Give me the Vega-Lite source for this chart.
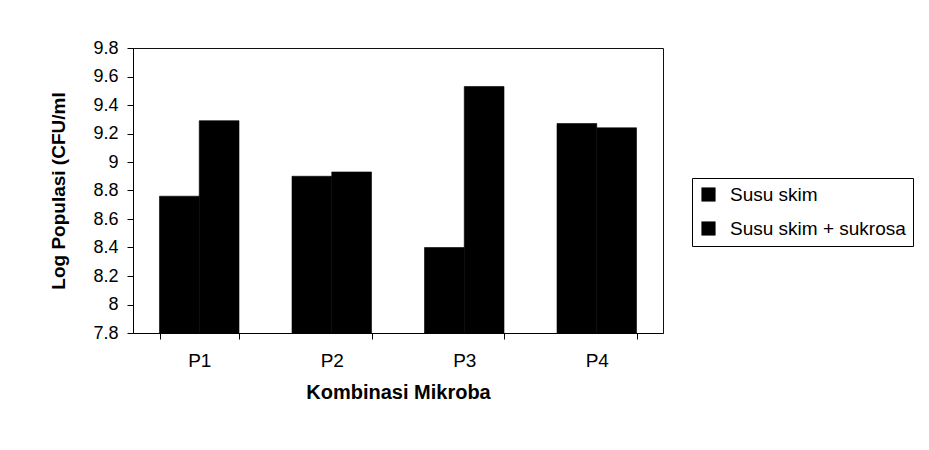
{
  "$schema": "https://vega.github.io/schema/vega-lite/v6.json",
  "width": 530,
  "height": 285,
  "autosize": {"type": "none"},
  "padding": {"left": 133, "top": 48, "right": 266, "bottom": 117},
  "background": "white",
  "config": {
    "font": "Liberation Sans",
    "view": {"stroke": "#111", "strokeWidth": 1}
  },
  "data": {
    "values": [
      {"kombinasi": "P1", "perlakuan": "Susu skim", "log": 8.76},
      {"kombinasi": "P1", "perlakuan": "Susu skim + sukrosa", "log": 9.29},
      {"kombinasi": "P2", "perlakuan": "Susu skim", "log": 8.90},
      {"kombinasi": "P2", "perlakuan": "Susu skim + sukrosa", "log": 8.93},
      {"kombinasi": "P3", "perlakuan": "Susu skim", "log": 8.40},
      {"kombinasi": "P3", "perlakuan": "Susu skim + sukrosa", "log": 9.53},
      {"kombinasi": "P4", "perlakuan": "Susu skim", "log": 9.27},
      {"kombinasi": "P4", "perlakuan": "Susu skim + sukrosa", "log": 9.24}
    ]
  },
  "mark": {"type": "bar", "stroke": "black", "strokeWidth": 0.6},
  "encoding": {
    "x": {
      "field": "kombinasi",
      "type": "nominal",
      "scale": {"paddingInner": 0.4, "paddingOuter": 0.2},
      "axis": {
        "title": "Kombinasi Mikroba",
        "labelAngle": 0,
        "tickBand": "extent",
        "tickSize": 6,
        "tickColor": "black",
        "domainColor": "black",
        "labelFontSize": 19,
        "labelColor": "black",
        "labelPadding": 12,
        "titleFontSize": 20,
        "titleFontWeight": "bold",
        "titleColor": "black",
        "titlePadding": 12
      }
    },
    "xOffset": {
      "field": "perlakuan",
      "type": "nominal",
      "scale": {"paddingInner": 0, "paddingOuter": 0}
    },
    "y": {
      "field": "log",
      "type": "quantitative",
      "scale": {"domain": [7.8, 9.8], "zero": false, "nice": false},
      "axis": {
        "title": "Log Populasi (CFU/ml",
        "values": [7.8, 8, 8.2, 8.4, 8.6, 8.8, 9, 9.2, 9.4, 9.6, 9.8],
        "format": "~g",
        "grid": false,
        "tickSize": 6,
        "tickColor": "black",
        "domainColor": "black",
        "labelFontSize": 18,
        "labelColor": "black",
        "labelPadding": 9,
        "titleFontSize": 19,
        "titleFontWeight": "bold",
        "titleColor": "black",
        "titlePadding": 24
      }
    },
    "y2": {"datum": 7.8},
    "color": {
      "field": "perlakuan",
      "type": "nominal",
      "scale": {"domain": ["Susu skim", "Susu skim + sukrosa"], "range": ["#000000", "#000000"]},
      "legend": {
        "title": null,
        "orient": "none",
        "legendX": 559,
        "legendY": 130,
        "symbolType": "square",
        "symbolSize": 200,
        "symbolStrokeWidth": 0,
        "labelFontSize": 19,
        "labelLimit": 400,
        "labelColor": "black",
        "labelOffset": 12,
        "rowPadding": 14,
        "padding": 7,
        "fillColor": "white",
        "strokeColor": "black"
      }
    }
  }
}
